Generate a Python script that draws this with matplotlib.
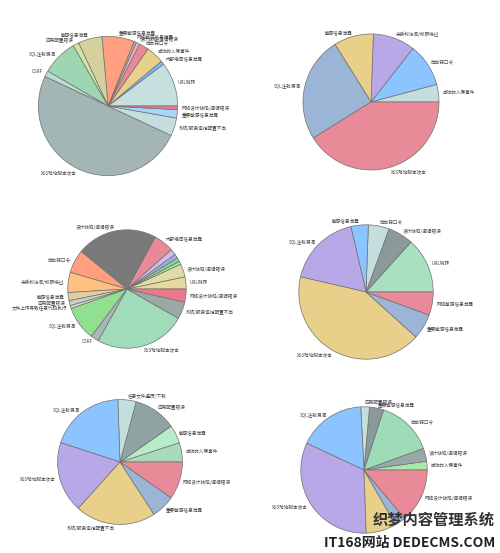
import matplotlib.pyplot as plt

plt.rcParams['font.family'] = ['Noto Sans CJK SC', 'DejaVu Sans']

W, H = 500, 553

# pie 1 (top left)
labels1 = ['URL跳转', '内部绝密信息泄露', '成功的入侵事件', '后台弱口令', '设计缺陷/逻辑错误', '网络敏感信息泄露',
           '重要敏感信息泄露', '敏感信息泄露', '应用配置错误', 'SQL注射漏洞', 'CSRF', 'XSS跨站脚本攻击',
           '系统/服务运维配置不当', '重要敏感信息泄露', '网络设计缺陷/逻辑错误']
values1 = [37, 3, 15, 8, 3, 2, 27, 20, 5, 30, 5, 180, 15, 7, 3]
colors1 = ['#c6e0e0', '#7ab8ff', '#e8d08a', '#e8899a', '#f0b0b8', '#d8a0a0', '#ff9f80', '#d6cf9e',
           '#d0e8a0', '#9ed6b3', '#b8e0d0', '#a3b5b5', '#c4dede', '#a8d4ff', '#e87a8c']

# pie 2 (top right)
labels2 = ['成功的入侵事件', '后台弱口令', '未授权访问/权限绕过', '敏感信息泄露', 'SQL注射漏洞', 'XSS跨站脚本攻击']
values2 = [15, 37, 36, 34, 90, 148]
colors2 = ['#c4dede', '#8cc4ff', '#b8a8e8', '#e8cf8a', '#9ab5d6', '#e88a98']

# pie 3 (middle left)
labels3 = ['URL跳转', '设计缺陷/逻辑错误', '', '', '', '', '内部绝密信息泄露', '设计缺陷/逻辑错误', '后台弱口令',
           '未授权访问/权限绕过', '敏感信息泄露', '应用配置错误', '文件上传导致任意代码执行', 'SQL注射漏洞', 'CSRF',
           'XSS跨站脚本攻击', '系统/服务运维配置不当', '网络设计缺陷/逻辑错误']
values3 = [12, 13, 3, 4, 4, 6, 20, 80, 23, 20, 8, 5, 3, 34, 8, 90, 17, 13]
colors3 = ['#e8d8a0', '#e0dca8', '#a8e8a8', '#80d890', '#a8a8f0', '#c8c0e8', '#e8899a', '#7a7a7a', '#ff9f80',
           '#ffc080', '#e0d0a0', '#c8d0c0', '#d0d8c8', '#90e090', '#a8b8b8', '#a0dcb8', '#9aa8a8', '#e87a8c']

# pie 4 (middle right)
labels4 = ['URL跳转', '设计缺陷/逻辑错误', '后台弱口令', '敏感信息泄露', 'SQL注射漏洞', 'XSS跨站脚本攻击',
           '重要敏感信息泄露', '网络敏感信息泄露']
values4 = [48, 22, 18, 15, 64, 151, 22, 20]
colors4 = ['#a8e0c0', '#8a9a9a', '#c4dede', '#8cc4ff', '#b8a8e8', '#e8cf8a', '#9ab5d6', '#e88a98']

# pie 5 (bottom left)
labels5 = ['成功的入侵事件', '敏感信息泄露', '应用配置错误', '任意文件遍历/下载', 'SQL注射漏洞', 'XSS跨站脚本攻击',
           '系统/服务运维配置不当', '重要敏感信息泄露', '网络设计缺陷/逻辑错误']
values5 = [18, 17, 40, 17, 70, 66, 75, 22, 35]
colors5 = ['#a8dcb8', '#b8ecc8', '#8fa3a3', '#c4dede', '#8cc4ff', '#b8a8e8', '#e8cf8a', '#9ab5d6', '#e88a98']

# pie 6 (bottom right)
labels6 = ['成功的入侵事件', '设计缺陷/逻辑错误', '后台弱口令', '重要敏感信息泄露', '应用配置错误', 'SQL注射漏洞',
           'XSS跨站脚本攻击', '', '', '网络设计缺陷/逻辑错误']
values6 = [8, 12, 52, 13, 8, 62, 117, 28, 10, 50]
colors6 = ['#a8e8a8', '#98a8a8', '#9edcb8', '#8a9a9a', '#c4dede', '#8cc4ff', '#b8a8e8', '#e8cf8a', '#9ab5d6', '#e88a98']

# pixel centre x, y and radius of each pie
layout = [(108, 106, 87), (371, 102, 85), (127, 289, 74),
          (366, 292, 84), (120, 462, 78), (364, 470, 79)]
pies = [(values1, labels1, colors1), (values2, labels2, colors2), (values3, labels3, colors3),
        (values4, labels4, colors4), (values5, labels5, colors5), (values6, labels6, colors6)]

fig = plt.figure(figsize=(W / 100, H / 100), dpi=100)
for (cx, cy, r), (vals, labs, cols) in zip(layout, pies):
    ax = fig.add_axes([(cx - r) / W, 1 - (cy + r) / H, 2 * r / W, 2 * r / H])
    ax.pie(vals, labels=labs, colors=cols, startangle=0, counterclock=True, labeldistance=1.06,
           wedgeprops=dict(edgecolor='#707070', linewidth=0.5),
           textprops=dict(fontsize=3.3, color='#444444'))
    ax.set_aspect('equal')

fig.text(0.99, 0.045, '织梦内容管理系统', ha='right', va='bottom', fontsize=11, fontweight='bold', color='#333333')
fig.text(0.99, 0.005, 'IT168网站 DEDECMS.COM', ha='right', va='bottom', fontsize=10, fontweight='bold', color='#222222')

fig.savefig('out.png', dpi=100)
